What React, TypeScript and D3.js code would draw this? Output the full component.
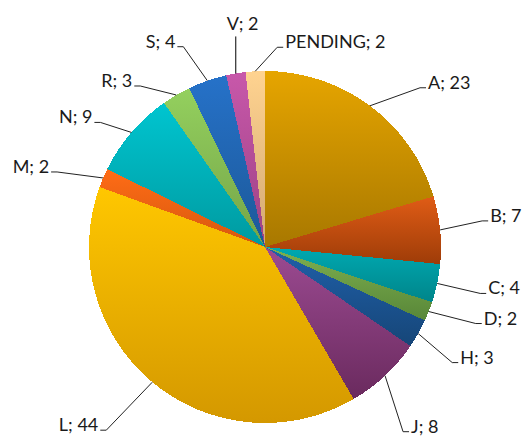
import React from "react";
import * as d3 from "d3";

const categories = ["A", "B", "C", "D", "H", "J", "L", "M", "N", "R", "S", "V", "PENDING"];
const values = [23, 7, 4, 2, 3, 8, 44, 2, 9, 3, 4, 2, 2];
const topColors = ["#E6A500", "#E05C16", "#00A9B1", "#7EB050", "#2060AA", "#9C4B92", "#FFC700", "#FF6C16", "#00C5D0", "#94D05E", "#2672C9", "#C858AA", "#FFD390"];
const bottomColors = ["#A87800", "#9E3C08", "#00858A", "#588738", "#164678", "#6A2A5E", "#D49800", "#D6580E", "#009AA0", "#74A448", "#1C5898", "#9C4284", "#D2A874"];

// label layout: elbow offset from slice edge point
const labelOffsets: [number, number][] = [
  [50, -18], [42, -9], [43, 10], [47, 12], [34, 29], [18, 56],
  [-46, 48], [-46, -6], [-31, -10], [-36, -9], [-24, -34], [0, -37], [22, -24],
];

const W = 525, H = 437;
const cx = 265, cy = 247, R = 176;

export default function App() {
  const pie = d3.pie<number>().sort(null).value((d) => d).startAngle(0).endAngle(2 * Math.PI);
  const arcs = pie(values);
  const arcGen = d3.arc<d3.PieArcDatum<number>>().innerRadius(0).outerRadius(R);
  return (
    <svg width={W} height={H} style={{ position: "absolute", left: 0, top: 0 }} fontFamily="Lato, 'Open Sans', sans-serif">
      <defs>
        {categories.map((c, i) => (
          <linearGradient key={c} id={`g${i}`} x1="0" y1="0" x2="0" y2="1">
            <stop offset="0" stopColor={topColors[i]} />
            <stop offset="1" stopColor={bottomColors[i]} />
          </linearGradient>
        ))}
      </defs>
      <rect width={W} height={H} fill="#fff" />
      <g transform={`translate(${cx},${cy})`}>
        {arcs.map((a, i) => (
          <path key={i} d={arcGen(a) || ""} fill={`url(#g${i})`} shapeRendering="crispEdges" />
        ))}
      </g>
      {arcs.map((a, i) => {
        const mid = (a.startAngle + a.endAngle) / 2;
        const ex = cx + R * Math.sin(mid);
        const ey = cy - R * Math.cos(mid);
        const [dx, dy] = labelOffsets[i];
        const bx = ex + dx, by = ey + dy;
        const label = `${categories[i]}; ${values[i]}`;
        if (dx === 0) {
          return (
            <g key={i}>
              <line x1={ex} y1={ey} x2={bx} y2={by} stroke="#000" strokeWidth={1} />
              <text x={bx - 9} y={by - 6} fontSize={18} fill="#1a1a1a">{label}</text>
            </g>
          );
        }
        const right = dx > 0;
        const tx = right ? bx + 6 : bx - 6;
        return (
          <g key={i}>
            <polyline points={`${ex},${ey} ${bx},${by} ${tx},${by}`} fill="none" stroke="#222" strokeWidth={1} />
            <text x={right ? tx + 2 : tx - 2} y={by + 1} fontSize={18} fill="#1a1a1a" textAnchor={right ? "start" : "end"}>{label}</text>
          </g>
        );
      })}
    </svg>
  );
}
